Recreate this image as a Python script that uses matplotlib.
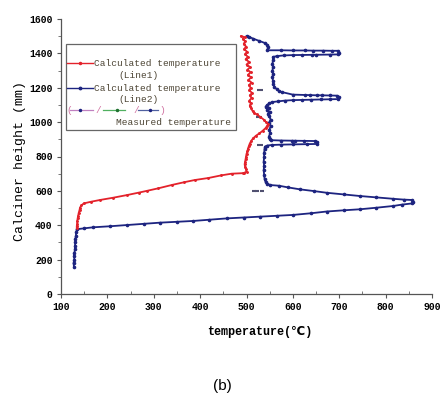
import matplotlib
matplotlib.use("Agg")
import matplotlib.pyplot as plt
from matplotlib.patches import Rectangle
from matplotlib.lines import Line2D

plt.rcParams['font.family'] = ['Liberation Mono', 'DejaVu Sans Mono', 'DejaVu Sans']

# calculated temperature, line 1 (red)
red_h = [1500, 1495, 1485, 1470, 1455, 1440, 1425, 1410, 1395, 1380, 1365, 1350, 1335, 1320,
         1305, 1290, 1275, 1260, 1245, 1230, 1215, 1200, 1185, 1170, 1155, 1140, 1125, 1110,
         1095, 1080, 1065, 1055, 1045, 1030, 1015, 1000, 990, 980, 965, 950, 935, 920, 905,
         890, 875, 860, 845, 830, 815, 800, 785, 770, 755, 740, 725, 712, 705, 703, 700, 690,
         675, 663, 650, 635, 615, 600, 590, 576, 560, 547, 537, 527, 515, 503, 489, 470, 455,
         442, 425, 410, 395, 384]
red_t = [488, 496, 492, 497, 494, 499, 495, 501, 497, 503, 498, 506, 500, 508,
         502, 509, 503, 510, 504, 511, 505, 509, 506, 512, 507, 511, 506, 509,
         507, 510, 513, 516, 522, 530, 537, 542, 546, 545, 541, 535, 528, 520, 514,
         510, 507, 505, 503, 502, 500, 499, 498, 497, 496, 497, 499, 500, 495, 492, 468, 445,
         418, 388, 365, 340, 310, 285, 268, 243, 212, 184, 165, 149, 144, 141, 140, 138, 137,
         136, 135, 135, 134, 134]

# calculated temperature, line 2 (navy)
blue_t = [500, 505, 515, 528, 540, 545, 546, 545, 575, 600, 626, 643, 665, 684, 697, 700, 698,
          680, 650, 641, 620, 600, 580, 565, 557, 557, 556, 557, 556, 557, 556, 557, 558, 560,
          565, 570, 576, 600, 626, 637, 652, 663, 680, 695, 699, 698, 680, 660, 640, 620, 600,
          582, 568, 556, 549, 545, 541, 548, 544, 550, 546, 549, 552, 548, 552, 549, 551, 548,
          550, 553, 575, 598, 604, 625, 647, 653, 652, 630, 600, 575, 555, 545, 540, 539, 538,
          538, 537, 538, 537, 538, 539, 541, 545, 551, 570, 590, 615, 645, 673, 710, 745, 780,
          816, 840, 857, 859, 857, 835, 816, 780, 745, 710, 673, 640, 600, 565, 529, 495, 458,
          420, 385, 350, 313, 278, 242, 205, 169, 150, 134, 133, 132, 131, 131, 130, 130, 129,
          128, 129, 127, 128]
blue_h = [1500, 1497, 1485, 1472, 1460, 1450, 1435, 1418, 1418, 1417, 1417, 1416, 1416, 1415,
          1415, 1405, 1394, 1393, 1392, 1392, 1391, 1390, 1388, 1384, 1379, 1360, 1340, 1320,
          1300, 1280, 1260, 1240, 1220, 1205, 1192, 1182, 1175, 1160, 1158, 1157, 1156, 1156,
          1155, 1154, 1145, 1134, 1133, 1132, 1131, 1130, 1128, 1125, 1121, 1117, 1110, 1100,
          1090, 1080, 1070, 1060, 1050, 1035, 1015, 995, 975, 955, 935, 915, 900, 895, 893, 892,
          892, 891, 890, 885, 873, 872, 871, 869, 867, 864, 858, 845, 820, 795, 770, 745, 720,
          695, 670, 652, 642, 634, 630, 620, 609, 599, 589, 579, 570, 562, 554, 549, 547, 537,
          527, 520, 512, 502, 493, 487, 480, 470, 460, 455, 450, 445, 440, 432, 425, 420, 415,
          408, 401, 394, 388, 382, 377, 360, 340, 320, 300, 280, 260, 240, 220, 200, 180, 160]

# measured temperature (three groups)
meas1_t = [529, 527]
meas1_h = [1187, 1027]
meas2_t = [530]
meas2_h = [867]
meas3_t = [516, 523, 533]
meas3_h = [599, 598, 598]

xticks = list(range(100, 1000, 100))
yticks = list(range(0, 1800, 200))

red = '#e3222b'
navy = '#1d2480'

fig = plt.figure(figsize=(4.41, 3.96), dpi=100)
ax = fig.add_axes([61 / 441, 102 / 396, 371 / 441, 275 / 396])

ax.plot(blue_t, blue_h, color=navy, lw=1.3, marker='.', markersize=3.2, zorder=3)
ax.plot(red_t, red_h, color=red, lw=1.3, marker='.', markersize=2.2, zorder=4)
ax.plot(meas1_t, meas1_h, ls='none', marker='_', markersize=4, mew=1.5, color='#505070')
ax.plot(meas2_t, meas2_h, ls='none', marker='_', markersize=4, mew=1.5, color='#505070')
ax.plot(meas3_t, meas3_h, ls='none', marker='_', markersize=3, mew=1.5, color='#505070')

ax.set_xlim(100, 900)
ax.set_ylim(0, 1600)
ax.set_xticks(xticks, [str(v) for v in xticks], fontweight='bold')
ax.set_xticks(range(150, 900, 100), minor=True)
ax.set_yticks(yticks, [str(v) for v in yticks], fontweight='bold')
ax.set_yticks(range(100, 1600, 200), minor=True)
for s in ['top', 'right']:
    ax.spines[s].set_visible(False)
for s in ['left', 'bottom']:
    ax.spines[s].set_color('#555555')
    ax.spines[s].set_linewidth(0.9)
ax.tick_params(which='major', direction='out', length=3, width=0.8, color='#555555',
               labelsize=7, pad=3)
ax.tick_params(which='minor', direction='out', length=2, width=0.7, color='#777777')
ax.tick_params(axis='x', which='minor', direction='in')

ax.set_ylabel('Calciner height (mm)', fontsize=9.5, va='center')
ax.yaxis.set_label_coords(-0.11, 0.484)
ax.set_xlabel('temperature(\u2103)', fontsize=8.5, fontweight='bold', va='center')
ax.xaxis.set_label_coords(0.536, -0.138)

# legend box
tr = ax.transAxes
ax.add_patch(Rectangle((0.0135, 0.596), 0.4585, 0.313, transform=tr, facecolor='white',
                       edgecolor='#666666', lw=0.9, zorder=5))
tc = '#4d4535'
fs = 6.8
ax.add_line(Line2D([0.016, 0.051, 0.086], [0.84] * 3, transform=tr, color=red, lw=1,
                   marker='.', markersize=3, markevery=[1], zorder=6))
ax.text(0.09, 0.84, 'Calculated temperature', transform=tr, fontsize=fs, color=tc,
        va='center', zorder=6)
ax.text(0.154, 0.796, '(Line1)', transform=tr, fontsize=fs, color=tc, va='center', zorder=6)
ax.add_line(Line2D([0.016, 0.051, 0.086], [0.749] * 3, transform=tr, color=navy,
                   lw=1, marker='.', markersize=3.5, markevery=[1], zorder=6))
ax.text(0.09, 0.749, 'Calculated temperature', transform=tr, fontsize=fs, color=tc,
        va='center', zorder=6)
ax.text(0.154, 0.709, '(Line2)', transform=tr, fontsize=fs, color=tc, va='center', zorder=6)

y3 = 0.669
ax.text(0.014, y3, '(', transform=tr, fontsize=fs, color='#d070a0', va='center', zorder=6)
ax.add_line(Line2D([0.024, 0.051, 0.086], [y3] * 3, transform=tr, color='#c080c0', lw=0.9,
                   marker='.', markersize=3, markevery=[1], mfc=navy, mec=navy, zorder=6))
ax.text(0.094, y3, '/', transform=tr, fontsize=fs, color='#d070a0', va='center', zorder=6)
ax.add_line(Line2D([0.113, 0.151, 0.172], [y3] * 3, transform=tr, color='#50b060', lw=0.9,
                   marker='.', markersize=3, markevery=[1], mfc='#207030', mec='#207030',
                   zorder=6))
ax.text(0.196, y3, '/', transform=tr, fontsize=fs, color='#d070a0', va='center', zorder=6)
ax.add_line(Line2D([0.207, 0.240, 0.261], [y3] * 3, transform=tr, color='#5060a0', lw=0.9,
                   marker='.', markersize=3, markevery=[1], mfc=navy, mec=navy, zorder=6))
ax.text(0.265, y3, ')', transform=tr, fontsize=fs, color='#d070a0', va='center', zorder=6)
ax.text(0.148, 0.622, 'Measured temperature', transform=tr, fontsize=fs, color=tc,
        va='center', zorder=6)

fig.text(222 / 441, 1 - 386 / 396, '(b)', family='Liberation Sans', fontsize=11,
         ha='center', va='center')

fig.savefig('out.png', dpi=100)
